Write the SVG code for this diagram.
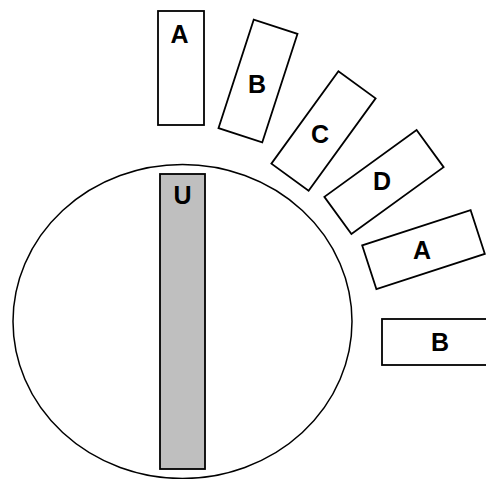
<svg xmlns="http://www.w3.org/2000/svg" width="486" height="479" viewBox="0 0 486 479">
  <style>
    .box { fill: #ffffff; stroke: #000000; stroke-width: 1.8; }
    .bar { fill: #bfbfbf; stroke: #000000; stroke-width: 1.8; }
    .ring { fill: #ffffff; stroke: #000000; stroke-width: 1.5; }
    .lbl { font-family: "Liberation Sans", Arial, sans-serif; font-weight: bold; font-size: 25px; fill: #000000; text-anchor: middle; }
  </style>
  <rect width="486" height="479" fill="#ffffff"/>
  <g id="wheel">
    <ellipse class="ring" cx="182.5" cy="321.5" rx="169.5" ry="157"/>
  </g>
  <g id="U">
    <rect class="bar" x="160" y="174" width="45" height="295"/>
    <text class="lbl" x="182.5" y="204">U</text>
  </g>
  <g id="A1">
    <rect class="box" x="158" y="11" width="46" height="114"/>
    <text class="lbl" x="179.5" y="43">A</text>
  </g>
  <g id="B1">
    <rect class="box" x="-23" y="-57" width="46" height="114" transform="translate(258 81) rotate(18)"/>
    <text class="lbl" x="257" y="93">B</text>
  </g>
  <g id="C">
    <rect class="box" x="-23" y="-57" width="46" height="114" transform="translate(323.5 131) rotate(36)"/>
    <text class="lbl" x="320" y="143">C</text>
  </g>
  <g id="D">
    <rect class="box" x="-23" y="-57" width="46" height="114" transform="translate(384 182) rotate(54)"/>
    <text class="lbl" x="382" y="190">D</text>
  </g>
  <g id="A2">
    <rect class="box" x="-23" y="-57" width="46" height="114" transform="translate(423.5 249.6) rotate(72)"/>
    <text class="lbl" x="422" y="259">A</text>
  </g>
  <g id="B2">
    <rect class="box" x="-23" y="-57" width="46" height="114" transform="translate(439 342) rotate(90)"/>
    <text class="lbl" x="440" y="350.5">B</text>
  </g>
  <g id="connectors"/>
</svg>
